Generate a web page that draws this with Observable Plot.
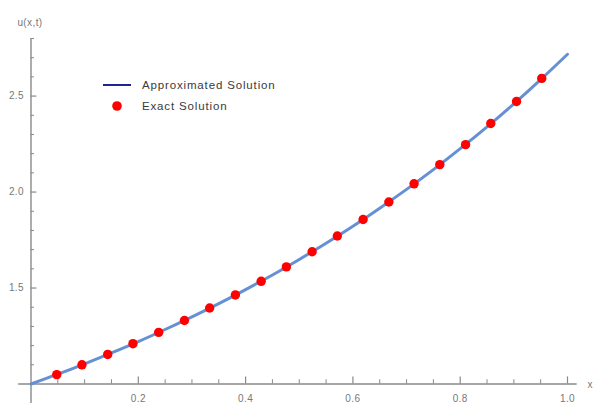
<!DOCTYPE html>
<html>
<head>
<meta charset="utf-8">
<script src="https://cdn.jsdelivr.net/npm/d3@7"></script>
<script src="https://cdn.jsdelivr.net/npm/@observablehq/plot@0.6"></script>
<style>
  html, body { margin: 0; padding: 0; background: #fff; }
  #wrap { position: relative; width: 595px; height: 403px; font-family: "Liberation Sans", Arial, sans-serif; }
  #legend { position: absolute; left: 103px; top: 74px; font-size: 11.5px; letter-spacing: 0.85px; color: #3a3a3a; }
  .row { display: flex; align-items: center; height: 21px; }
  .sw { width: 28px; display: flex; justify-content: center; margin-right: 11px; }
  #chart svg text { letter-spacing: 0.4px; }
</style>
</head>
<body>
<div id="wrap">
  <div id="chart"></div>
  <div id="legend">
    <div class="row"><div class="sw"><svg width="28" height="4"><line x1="0" y1="2" x2="28" y2="2" stroke="#1c2590" stroke-width="2"/></svg></div><span>Approximated Solution</span></div>
    <div class="row"><div class="sw"><svg width="12" height="12"><circle cx="6" cy="6" r="4.8" fill="#ff0000"/></svg></div><span>Exact Solution</span></div>
  </div>
</div>
<script>
// Approximated solution (line)
const approxX = [0,0.05,0.1,0.15,0.2,0.25,0.3,0.35,0.4,0.45,0.5,0.55,0.6,0.65,0.7,0.75,0.8,0.85,0.9,0.95,1.0];
const approxU = [1.000,1.051,1.105,1.162,1.221,1.284,1.350,1.419,1.492,1.568,1.649,1.733,1.822,1.916,2.014,2.117,2.226,2.340,2.460,2.586,2.718];
// Exact solution (points)
const exactX = [0.048,0.095,0.143,0.190,0.238,0.286,0.333,0.381,0.429,0.476,0.524,0.571,0.619,0.667,0.714,0.762,0.810,0.857,0.905,0.952];
const exactU = [1.049,1.100,1.154,1.210,1.269,1.331,1.396,1.464,1.535,1.610,1.689,1.771,1.857,1.948,2.043,2.143,2.247,2.357,2.472,2.592];
// Axis ticks
const xMajor = [0.2,0.4,0.6,0.8,1.0];
const xMinor = [0.05,0.1,0.15,0.25,0.3,0.35,0.45,0.5,0.55,0.65,0.7,0.75,0.85,0.9,0.95];
const yMajor = [1.5,2.0,2.5];
const yMinor = [1.1,1.2,1.3,1.4,1.6,1.7,1.8,1.9,2.1,2.2,2.3,2.4,2.6,2.7,2.8];
const xTickLabels = ["0.2","0.4","0.6","0.8","1.0"];
const yTickLabels = ["1.5","2.0","2.5"];

const approx = approxX.map((x, i) => ({x, u: approxU[i]}));
const exact = exactX.map((x, i) => ({x, u: exactU[i]}));

const axisColor = "#8a8a8a";
const textColor = "#777";
const majLenY = 0.037, minLenY = 0.022; // tick lengths in u-units
const majLenX = 0.011, minLenX = 0.0065; // tick lengths in x-units

const chart = Plot.plot({
  width: 595,
  height: 403,
  marginLeft: 30.5,
  marginRight: 28,
  marginTop: 38,
  marginBottom: 19.5,
  x: {domain: [0, 1], axis: null},
  y: {domain: [1, 2.8], axis: null},
  style: {fontFamily: "Liberation Sans, Arial, sans-serif", background: "white", overflow: "visible"},
  marks: [
    // axes lines
    Plot.ruleY([1], {x1: -0.023, x2: 1.018, stroke: axisColor, strokeWidth: 1.4, clip: false}),
    Plot.ruleX([0], {y1: 0.898, y2: 2.8, stroke: axisColor, strokeWidth: 1.4, clip: false}),
    // x ticks
    Plot.ruleX(xMajor, {x: d => d, y1: 1, y2: 1 + majLenY, stroke: axisColor, strokeWidth: 1.2}),
    Plot.ruleX(xMinor, {x: d => d, y1: 1, y2: 1 + minLenY, stroke: axisColor, strokeWidth: 1}),
    // y ticks
    Plot.ruleY(yMajor, {y: d => d, x1: 0, x2: majLenX, stroke: axisColor, strokeWidth: 1.2}),
    Plot.ruleY(yMinor, {y: d => d, x1: 0, x2: minLenX, stroke: axisColor, strokeWidth: 1}),
    // tick labels
    Plot.text(xMajor, {x: d => d, y: 1, text: (d, i) => xTickLabels[i], dy: 15, fill: textColor, fontSize: 10}),
    Plot.text(yMajor, {y: d => d, x: 0, text: (d, i) => yTickLabels[i], dx: -7, textAnchor: "end", fill: textColor, fontSize: 10}),
    // axis labels
    Plot.text(["u(x,t)"], {x: 0, y: 2.8, text: d => d, dy: -16, dx: -1, fill: textColor, fontSize: 10}),
    Plot.text(["x"], {x: 1.018, y: 1, text: d => d, dx: 13, dy: 1, fill: textColor, fontSize: 10}),
    // data
    Plot.line(approx, {x: "x", y: "u", stroke: "#6690d4", strokeWidth: 3, curve: "catmull-rom"}),
    Plot.dot(exact, {x: "x", y: "u", r: 4.7, fill: "#ff0000", stroke: "none"})
  ]
});
document.getElementById("chart").appendChild(chart);
</script>
</body>
</html>
